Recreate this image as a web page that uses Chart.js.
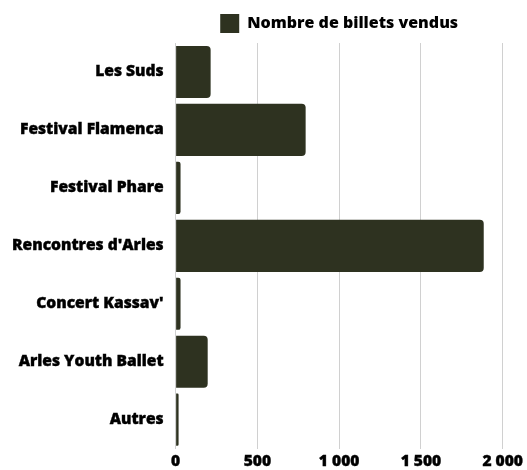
<!DOCTYPE html>
<html><head><meta charset="utf-8">
<script src="https://cdn.jsdelivr.net/npm/chart.js@4/dist/chart.umd.min.js"></script>
<style>html,body{margin:0;padding:0;background:#fff}#w{width:527px;height:470px;position:relative}</style>
</head><body><div id="w"><canvas id="c"></canvas></div>
<script>
const categories = ["Les Suds","Festival Flamenca","Festival Phare","Rencontres d'Arles","Concert Kassav'","Arles Youth Ballet","Autres"];
const seriesName = "Nombre de billets vendus";
const values = [214, 795, 30, 1884, 30, 196, 18];
const xTicks = [0, 500, 1000, 1500, 2000];
const fmt = v => String(v).replace(/\B(?=(\d{3})+(?!\d))/g, " ");
Chart.defaults.font.family = "'Open Sans', sans-serif";
const F = { size: 15.6, weight: '800' };
const centerLegend = {
  id: 'centerLegend',
  afterLayout(chart) {
    const lg = chart.legend, ca = chart.chartArea;
    if (!lg) return;
    lg.left = ca.left; lg.right = ca.right; lg.width = ca.right - ca.left;
    lg.adjustHitBoxes();
  }
};
new Chart(document.getElementById('c'), {
  type: 'bar',
  data: { labels: categories, datasets: [{ label: seriesName, data: values,
    backgroundColor: '#2e3220', borderColor: '#2e3220', borderWidth: 0, borderRadius: 4, borderSkipped: 'start',
    barPercentage: 0.9, categoryPercentage: 1 }] },
  plugins: [centerLegend],
  options: {
    indexAxis: 'y', responsive: true, maintainAspectRatio: false, animation: false,
    layout: { padding: { left: 0, right: 22, top: 6, bottom: -16 } },
    plugins: {
      legend: { position: 'top', labels: { boxWidth: 19, boxHeight: 19, color: '#000', font: { size: 16, weight: '800' }, padding: 8 } },
      tooltip: { enabled: false }
    },
    scales: {
      x: { min: 0, max: 2000, afterBuildTicks: a => { a.ticks = xTicks.map(v => ({ value: v })); },
        grid: { color: '#d0d0d0', drawTicks: false }, border: { display: false },
        ticks: { color: '#000', font: F, padding: 4, textStrokeColor: '#000', textStrokeWidth: 0.4, callback: v => fmt(v) } },
      y: { grid: { display: false, drawTicks: false }, border: { display: true, color: '#d0d0d0' },
        ticks: { color: '#000', font: F, padding: 12, textStrokeColor: '#000', textStrokeWidth: 0.4 } }
    }
  }
});
</script></body></html>
